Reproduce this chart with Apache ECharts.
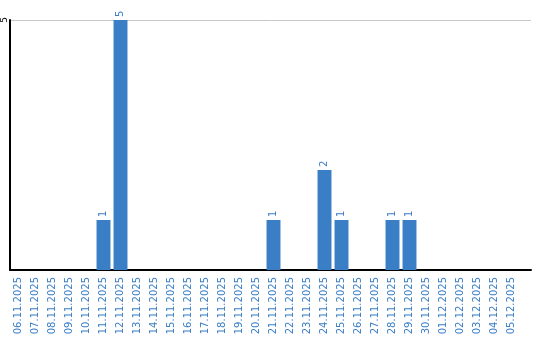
<!DOCTYPE html>
<html><head><meta charset="utf-8">
<script src="https://cdn.jsdelivr.net/npm/echarts@6/dist/echarts.min.js"></script>
<style>html,body{margin:0;padding:0;background:#fff}#c{width:540px;height:340px}</style>
</head><body><div id="c"></div>
<script>
const categories = ['06.11.2025','07.11.2025','08.11.2025','09.11.2025','10.11.2025','11.11.2025','12.11.2025','13.11.2025','14.11.2025','15.11.2025','16.11.2025','17.11.2025','18.11.2025','19.11.2025','20.11.2025','21.11.2025','22.11.2025','23.11.2025','24.11.2025','25.11.2025','26.11.2025','27.11.2025','28.11.2025','29.11.2025','30.11.2025','01.12.2025','02.12.2025','03.12.2025','04.12.2025','05.12.2025'];
const values = [0,0,0,0,0,1,5,0,0,0,0,0,0,0,0,1,0,0,2,1,0,0,1,1,0,0,0,0,0,0];
const yTicks = [0,5];

const blue = '#3a7ec6';
const chart = echarts.init(document.getElementById('c'), null, {renderer:'canvas'});
chart.setOption({
  animation:false,
  textStyle:{fontFamily:'DejaVu Sans'},
  grid:[
    {left:10, top:20, width:510, height:250},
    {left:10, top:20, width:521, height:250}
  ],
  xAxis:[
    {type:'category', gridIndex:0, data:categories,
     axisLine:{show:false}, axisTick:{show:false}, splitLine:{show:false},
     axisLabel:{rotate:90, interval:0, margin:7, color:blue, fontSize:10, fontFamily:'DejaVu Sans'}},
    {type:'category', gridIndex:1, data:[''],
     axisLine:{show:true, lineStyle:{color:'#000', width:2}}, axisTick:{show:false},
     axisLabel:{show:false}, splitLine:{show:false}}
  ],
  yAxis:[
    {type:'value', gridIndex:0, min:yTicks[0], max:yTicks[1], interval:5,
     axisLine:{show:false}, axisTick:{show:false}, axisLabel:{show:false}, splitLine:{show:false}},
    {type:'value', gridIndex:1, min:yTicks[0], max:yTicks[1], interval:5,
     axisLine:{show:true, lineStyle:{color:'#000', width:2}}, axisTick:{show:false},
     axisLabel:{rotate:90, margin:5, color:'#000', fontSize:9, fontFamily:'DejaVu Sans',
       align:'center', verticalAlign:'middle',
       formatter:v=>v===0?'':String(v)},
     splitLine:{show:true, lineStyle:{color:'#c8c8c8', width:1}}}
  ],
  series:[{
    type:'bar', xAxisIndex:0, yAxisIndex:0, data:values,
    barCategoryGap:'18%',
    itemStyle:{color:blue},
    label:{show:true, position:'top', rotate:90, align:'left', verticalAlign:'middle', distance:3,
      color:blue, fontSize:10, fontFamily:'DejaVu Sans',
      formatter:p=>p.value?String(p.value):''}
  }]
});
</script></body></html>
